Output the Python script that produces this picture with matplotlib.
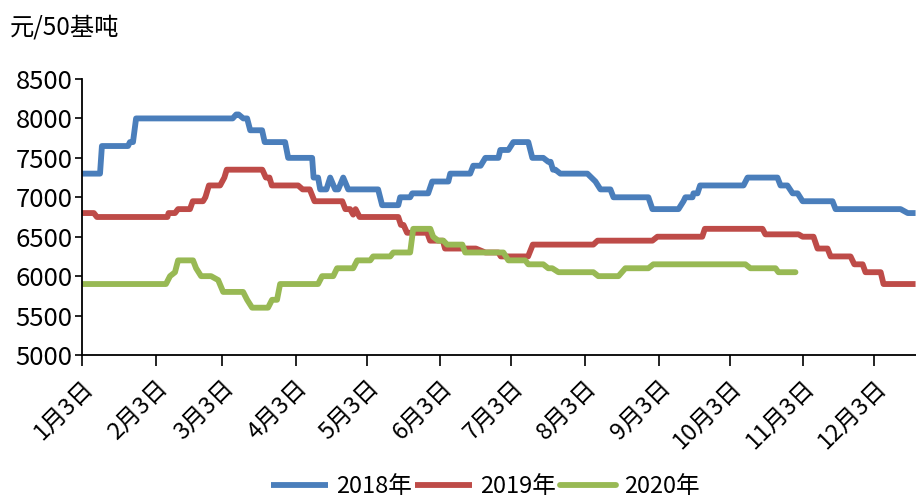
import numpy as np
import matplotlib
matplotlib.use("Agg")
import matplotlib.pyplot as plt

plt.rcParams['font.family'] = ['Noto Sans CJK SC', 'DejaVu Sans']

# days after 1月3日, price (元/50基吨)
d2018 = [0, 7.6, 8.4, 19.4, 20.2, 21.5, 22.8, 63.5, 65, 66, 68, 69.6, 70.9, 75.9, 77, 85.6,
         86.9, 97, 97.6, 99.5, 100.4, 103, 104.6, 106.7, 108, 110.1, 112.2, 124.8, 126.5,
         133.3, 134.1, 138.3, 139.2, 145.9, 147.6, 154.4, 155.2, 163.6, 164.9, 168, 170,
         175.5, 176.3, 179.7, 181.8, 188.1, 189.8, 194.4, 196.5, 197.5, 198.5, 199.5, 201.6,
         213, 216.4, 218.5, 222.7, 224, 238.7, 240.4, 251.4, 253.5, 254.3, 257.3, 257.7,
         259.4, 260.5, 278.8, 280.5, 293.1, 294.4, 297.3, 299.5, 301.6, 303.7, 316.3, 317.6,
         345, 348, 351.3]
v2018 = [7300, 7300, 7650, 7650, 7700, 7700, 8000, 8000, 8050, 8050, 8000, 8000, 7850, 7850,
         7700, 7700, 7500, 7500, 7250, 7250, 7100, 7100, 7250, 7100, 7100, 7250, 7100, 7100,
         6900, 6900, 7000, 7000, 7050, 7050, 7200, 7200, 7300, 7300, 7400, 7400, 7500, 7500,
         7600, 7600, 7700, 7700, 7500, 7500, 7450, 7450, 7350, 7350, 7300, 7300, 7200, 7100,
         7100, 7000, 7000, 6850, 6850, 6950, 7000, 7000, 7050, 7050, 7150, 7150, 7250, 7250,
         7150, 7150, 7050, 7050, 6950, 6950, 6850, 6850, 6800, 6800]

d2019 = [0, 5, 6.3, 36, 36.5, 39.2, 40.5, 45.5, 46.7, 51, 52, 53.5, 58.2, 60, 61, 76, 77.5,
         79, 80, 91.1, 93, 96, 98, 109.7, 111, 113, 114.3, 115.3, 117, 133.3, 134.4, 135.5,
         137, 145.5, 146.7, 152.1, 153, 166, 170, 175.5, 176.5, 188, 190, 215.5, 217.3,
         240.4, 242.5, 261.4, 262.5, 286.8, 288, 302, 303.7, 308.3, 310, 314.2, 315.5, 323.9,
         325.5, 329, 330.2, 336.6, 337.8, 351.3]
v2019 = [6800, 6800, 6750, 6750, 6800, 6800, 6850, 6850, 6950, 6950, 7000, 7150, 7150, 7250,
         7350, 7350, 7250, 7250, 7150, 7150, 7100, 7100, 6950, 6950, 6850, 6850, 6780, 6850,
         6750, 6750, 6650, 6650, 6550, 6550, 6450, 6450, 6350, 6350, 6300, 6300, 6250, 6250,
         6400, 6400, 6450, 6450, 6500, 6500, 6600, 6600, 6530, 6530, 6500, 6500, 6350, 6350,
         6250, 6250, 6150, 6150, 6050, 6050, 5900, 5900]

d2020 = [0, 35.4, 37.1, 39.2, 40.5, 46.8, 48.1, 50.2, 54.4, 57.4, 59.5, 67.9, 69.6, 71.7,
         78.4, 80.1, 82.2, 83.5, 99.5, 101.2, 105.9, 107.5, 114.3, 116, 121.5, 122.7, 129.9,
         131.2, 138.3, 139.6, 146.8, 148, 150.1, 152.3, 153.9, 160.3, 161.5, 177.6, 179.7,
         186.8, 188.1, 194.4, 196.5, 198.2, 200.8, 215.5, 217.6, 226.1, 229, 238.7, 240.8,
         279.6, 281.7, 292.3, 293.5, 300.7]
v2020 = [5900, 5900, 6000, 6050, 6200, 6200, 6100, 6000, 6000, 5950, 5800, 5800, 5700, 5600,
         5600, 5700, 5700, 5900, 5900, 6000, 6000, 6100, 6100, 6200, 6200, 6250, 6250, 6300,
         6300, 6600, 6600, 6500, 6450, 6450, 6400, 6400, 6300, 6300, 6200, 6200, 6150, 6150,
         6100, 6100, 6050, 6050, 6000, 6000, 6100, 6100, 6150, 6150, 6100, 6100, 6050, 6050]

months = list(range(1, 13))
yticks = [5000, 5500, 6000, 6500, 7000, 7500, 8000, 8500]

start = np.datetime64('2018-01-03')


def to_dates(days):
    return start + (np.array(days) * 24 * 3600).astype('timedelta64[s]')


fig = plt.figure(figsize=(9.16, 5.0), dpi=100)
ax = fig.add_axes([0.0895, 0.29, 0.91, 0.552])

ax.plot(to_dates(d2018), v2018, color='#4A7EBB', lw=4.2, label='2018年', solid_capstyle='butt')
ax.plot(to_dates(d2019), v2019, color='#BE4B48', lw=4.2, label='2019年', solid_capstyle='butt')
ax.plot(to_dates(d2020), v2020, color='#98B954', lw=4.2, label='2020年', solid_capstyle='round')

ax.set_xlim(start, to_dates([351.3])[0])
ax.set_ylim(5000, 8500)
ax.set_yticks(yticks)
ax.tick_params(axis='y', labelsize=18.5, length=5, width=1.2, direction='out', pad=2)

xt = [np.datetime64('2018-%02d-03' % m) for m in months]
ax.set_xticks(xt)
ax.set_xticklabels(['%d月3日' % m for m in months], rotation=45, ha='right',
                   rotation_mode='anchor', fontsize=17)
ax.tick_params(axis='x', length=8, width=1.2, direction='out', pad=7)

for s in ['top', 'right']:
    ax.spines[s].set_visible(False)
for s in ['left', 'bottom']:
    ax.spines[s].set_linewidth(1.3)

fig.text(0.011, 0.945, '元/50基吨', fontsize=17.5, ha='left', va='center')

fig.legend(loc='center', bbox_to_anchor=(0.53, 0.027), ncol=3, frameon=False,
           fontsize=17, handlelength=2.4, handletextpad=0.35, columnspacing=0.15,
           borderaxespad=0)

fig.savefig('out.png', dpi=100)
